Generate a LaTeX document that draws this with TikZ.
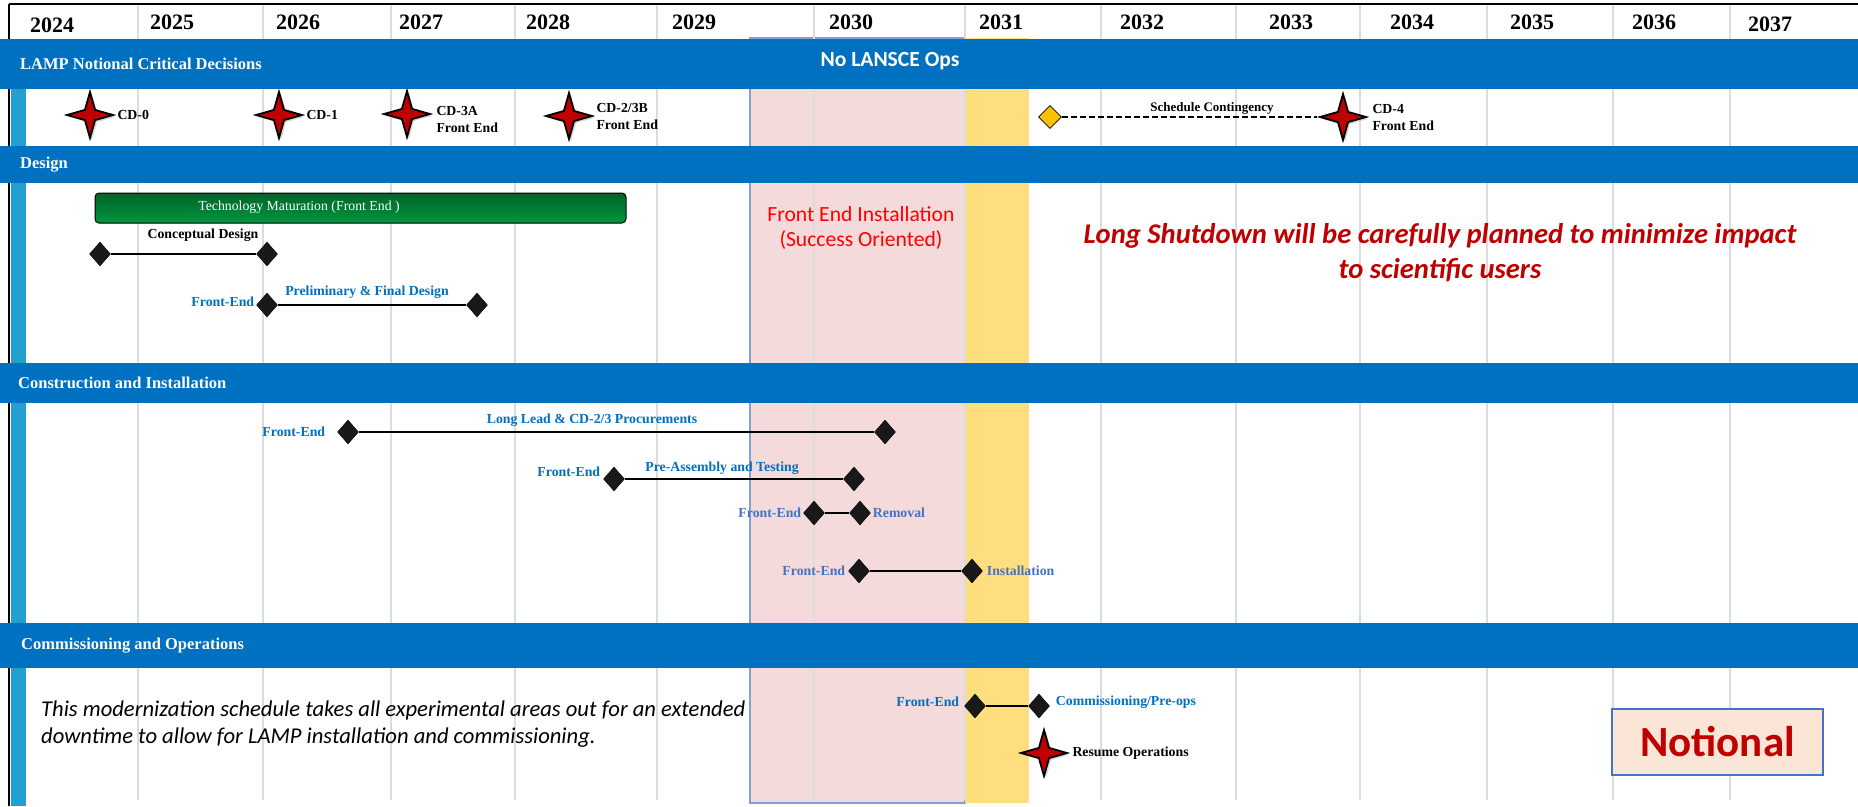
\documentclass[tikz,border=0pt]{standalone}
\usepackage{fontspec}
\setmainfont{Liberation Serif}
\newfontfamily\carlito{Carlito}
\usetikzlibrary{shapes.geometric,positioning,shadows}
\definecolor{bandblue}{RGB}{0,112,192}
\definecolor{feblue}{RGB}{0,112,192}
\definecolor{feblueb}{RGB}{68,114,196}
\definecolor{cdred}{RGB}{192,0,0}
\definecolor{shutpink}{RGB}{244,218,218}
\definecolor{pinkedge}{RGB}{130,160,215}
\definecolor{contyellow}{RGB}{255,222,128}
\definecolor{gridgray}{RGB}{220,220,220}
\definecolor{edgecyan}{RGB}{36,160,208}
\definecolor{notionfill}{RGB}{251,229,214}
\definecolor{notionedge}{RGB}{68,114,196}
\definecolor{bartop}{RGB}{0,100,40}
\definecolor{barbot}{RGB}{0,150,62}
\definecolor{contdia}{RGB}{255,192,0}
\begin{document}
\begin{tikzpicture}[x=1pt,y=-1pt,
  bandlabel/.style={anchor=west,inner sep=0pt,text=white,font=\bfseries\fontsize{16.5}{18}\selectfont},
  year/.style={inner sep=0pt,font=\bfseries\fontsize{22}{24}\selectfont},
  cdstar/.style={star,star points=4,star point ratio=3.2,minimum size=46pt,inner sep=0pt,
    fill=cdred,draw=black,line width=1.8pt,
    drop shadow={shadow xshift=2pt,shadow yshift=-2pt,fill=black!30}},
  ms/.style={diamond,minimum width=21pt,minimum height=24pt,inner sep=0pt,fill=black!90,draw=black},
  task/.style={line width=2.8pt},
  lbl/.style={inner sep=0pt,font=\bfseries\fontsize{13.8}{17}\selectfont},
  fe/.style={lbl,text=feblue},
  feb/.style={lbl,text=feblueb}]
\useasboundingbox (0,0) rectangle (1858,806);
\fill[white] (0,0) rectangle (1858,806);

% shutdown and contingency windows
\path[fill=shutpink,draw=pinkedge,line width=1.2pt] (750,38) rectangle (965,803);
\path[fill=contyellow] (965,38) rectangle (1029,803);

% year grid
\foreach \gx in {138,263,391,515,657,814,965,1101,1236,1360,1487,1613,1730}
  \draw[gridgray,line width=1.3pt] (\gx,4) -- (\gx,800);
\fill[edgecyan] (11,39) rectangle (26,806);
\draw[black,line width=2.5pt] (9,4) -- (9,806);
\draw[black,line width=1.5pt] (9,4) -- (1858,4);

\node[year] (y24) at (52,25) {2024};
\node[year] (y25) at (172,22) {2025};
\node[year] (y26) at (298,22) {2026};
\node[year] (y27) at (421,22) {2027};
\node[year] (y28) at (548,22) {2028};
\node[year] (y29) at (694,22) {2029};
\node[year] (y30) at (851,22) {2030};
\node[year] (y31) at (1001,22) {2031};
\node[year] (y32) at (1142,22) {2032};
\node[year] (y33) at (1291,22) {2033};
\node[year] (y34) at (1412,22) {2034};
\node[year] (y35) at (1532,22) {2035};
\node[year] (y36) at (1654,22) {2036};
\node[year] (y37) at (1770,24) {2037};

% section bands
\fill[bandblue] (0,39) rectangle (1858,89);
\fill[bandblue] (0,146) rectangle (1858,183);
\fill[bandblue] (0,363) rectangle (1858,403);
\fill[bandblue] (0,623) rectangle (1858,668);
\node[bandlabel] (bandcd) at (20,64) {LAMP Notional Critical Decisions};
\node[bandlabel] (banddes) at (20,165) {Design};
\node[bandlabel] (bandcon) at (18,383) {Construction and Installation};
\node[bandlabel] (bandcom) at (21,646) {Commissioning and Operations};
\node[inner sep=0pt,text=white,font=\carlito\bfseries\fontsize{21.6}{23}\selectfont] (noops) at (890,61) {No LANSCE Ops};

% critical decisions
\node[ms,fill=contdia,line width=0.8pt,minimum width=23pt,minimum height=23pt] (cont) at (1050,117) {};
\node[cdstar] (cd0) at (90,115) {};
\node[lbl,right=1pt of cd0] (cd0l) {CD-0};
\node[cdstar] (cd1) at (279,115) {};
\node[lbl,right=1pt of cd1] (cd1l) {CD-1};
\node[cdstar] (cd3a) at (407,114) {};
\node[lbl,align=left,right=3pt of cd3a,yshift=-5pt] (cd3al) {CD-3A\\Front End};
\node[cdstar] (cd2b) at (569,116) {};
\node[lbl,align=left,right=1pt of cd2b] (cd2bl) {CD-2/3B\\Front End};
\node[cdstar] (cd4) at (1343,117) {};
\node[lbl,align=left,right=3pt of cd4] (cd4l) {CD-4\\Front End};
\path[draw,line width=2pt,dash pattern=on 6pt off 3pt] (cont) -- (cd4);
\node[lbl,font=\bfseries\fontsize{13}{15}\selectfont] (contl) at (1212,108) {Schedule Contingency};

% design
\path[draw=black,line width=1pt,rounded corners=4pt,top color=bartop,bottom color=barbot] (95,193) rectangle (626,223);
\node[inner sep=0pt,text=white,font=\fontsize{13.8}{16}\selectfont] (techl) at (299,207) {Technology Maturation (Front End )};
\node[ms] (cdA) at (100,254) {};
\node[ms] (cdB) at (267,254) {};
\path[draw,task] (cdA) -- (cdB);
\node[lbl] (cdl) at (203,235) {Conceptual Design};
\node[ms] (pfA) at (267,305) {};
\node[ms] (pfB) at (477,305) {};
\path[draw,task] (pfA) -- (pfB);
\node[fe,left=2pt of pfA,yshift=3pt] (pffe) {Front-End};
\node[fe] (pfl) at (367,292) {Preliminary \& Final Design};

\node[inner sep=0pt,text=red,align=center,font=\carlito\fontsize{21.6}{24.5}\selectfont] (feinst) at (861,228) {Front End Installation\\(Success Oriented)};
\node[inner sep=0pt,text=cdred,align=center,font=\carlito\bfseries\itshape\fontsize{28.6}{35}\selectfont] (shutl) at (1440,253) {Long Shutdown will be carefully planned to minimize impact\\to scientific users};

% construction and installation
\node[ms] (llA) at (348,432) {};
\node[ms] (llB) at (885,432) {};
\path[draw,task] (llA) -- (llB);
\node[fe,left=12pt of llA] (llfe) {Front-End};
\node[fe] (lll) at (592,420) {Long Lead \& CD-2/3 Procurements};
\node[ms] (paA) at (614,479) {};
\node[ms] (paB) at (854,479) {};
\path[draw,task] (paA) -- (paB);
\node[fe,left=3pt of paA,yshift=7pt] (pafe) {Front-End};
\node[fe] (pal) at (722,468) {Pre-Assembly and Testing};
\node[ms] (rmA) at (814,513) {};
\node[ms] (rmB) at (860,513) {};
\path[draw,task] (rmA) -- (rmB);
\node[feb,left=2pt of rmA] (rmfe) {Front-End};
\node[feb,right=2pt of rmB] (rml) {Removal};
\node[ms] (inA) at (859,571) {};
\node[ms] (inB) at (972,571) {};
\path[draw,task] (inA) -- (inB);
\node[feb,left=3pt of inA] (infe) {Front-End};
\node[feb,right=4pt of inB] (inl) {Installation};

% commissioning and operations
\node[ms] (coA) at (975,706) {};
\node[ms] (coB) at (1039,706) {};
\path[draw,task] (coA) -- (coB);
\node[fe,left=5pt of coA,yshift=4pt] (cofe) {Front-End};
\node[fe,right=6pt of coB,yshift=4pt] (col) {Commissioning/Pre-ops};
\node[cdstar] (resume) at (1044,753) {};
\node[lbl,right=2pt of resume] (resumel) {Resume Operations};

\node[inner sep=0pt,anchor=west,align=left,font=\carlito\itshape\fontsize{22.6}{27}\selectfont] (notel) at (41,724) {This modernization schedule takes all experimental areas out for an extended\\downtime to allow for LAMP installation and commissioning.};
\node[draw=notionedge,fill=notionfill,line width=1.3pt,minimum width=211pt,minimum height=66pt,text=cdred,font=\carlito\bfseries\fontsize{43}{45}\selectfont] (notion) at (1717.5,742) {Notional};
\end{tikzpicture}
\end{document}
